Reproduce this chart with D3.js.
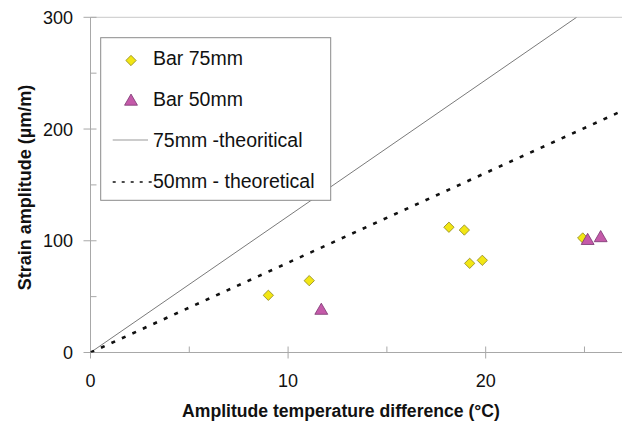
<!DOCTYPE html>
<html>
<head>
<meta charset="utf-8">
<script src="https://cdn.jsdelivr.net/npm/d3@7"></script>
<style>
  html, body { margin: 0; padding: 0; background: #fff; }
  svg { display: block; font-family: Arial, "Liberation Sans", sans-serif; }
</style>
</head>
<body>
<svg id="chart" width="622" height="422"></svg>
<script>
// ---- data ----
const bar75X = [9.0, 11.07, 18.14, 18.92, 19.19, 19.83, 24.91];
const bar75Y = [51.2, 64.3, 112.1, 109.6, 79.8, 82.5, 102.5];
const bar50X = [11.68, 25.16, 25.82];
const bar50Y = [37.5, 100.0, 102.5];
const theo75X = [0, 24.6];
const theo75Y = [0, 300];
const theo50X = [0, 27];
const theo50Y = [0, 217];
const xTicks = [0, 10, 20];
const xMinorTicks = [5, 15, 25];
const yTicks = [0, 100, 200, 300];
const yMinorTicks = [50, 150, 250];
const legendLabels = ["Bar 75mm", "Bar 50mm", "75mm -theoritical", "50mm - theoretical"];
const xTitle = "Amplitude temperature difference (°C)";
const yTitle = "Strain amplitude (µm/m)";

// ---- layout ----
const svg = d3.select("#chart");
const x = d3.scaleLinear().domain([0, 27]).range([90.5, 624]);
const y = d3.scaleLinear().domain([0, 300]).range([352.5, 17.3]);
const axisColor = "#a8a8a8";

// frame top line
svg.append("line")
  .attr("x1", x(0)).attr("x2", 622)
  .attr("y1", y(300)).attr("y2", y(300))
  .attr("stroke", "#c8c8c8").attr("stroke-width", 1);

// y axis
const yAxis = svg.append("g").attr("transform", `translate(${x(0)},0)`);
yAxis.append("line").attr("y1", y(0)).attr("y2", y(300)).attr("stroke", axisColor);
yAxis.selectAll(".maj").data(yTicks).join("line")
  .attr("class", "maj")
  .attr("x1", -7).attr("x2", 6).attr("y1", d => y(d)).attr("y2", d => y(d))
  .attr("stroke", axisColor);
yAxis.selectAll(".min").data(yMinorTicks).join("line")
  .attr("class", "min")
  .attr("x1", 0).attr("x2", 6).attr("y1", d => y(d)).attr("y2", d => y(d))
  .attr("stroke", axisColor);
svg.selectAll(".ylab").data(yTicks).join("text")
  .attr("class", "ylab")
  .attr("x", 73).attr("y", d => y(d)).attr("dy", "0.36em")
  .attr("text-anchor", "end").attr("font-size", 18).attr("fill", "#111")
  .text(d => d);

// x axis
const xAxis = svg.append("g").attr("transform", `translate(0,${y(0)})`);
xAxis.append("line").attr("x1", x(0)).attr("x2", 622).attr("stroke", axisColor);
xAxis.selectAll(".maj").data(xTicks).join("line")
  .attr("class", "maj")
  .attr("x1", d => x(d)).attr("x2", d => x(d)).attr("y1", -6).attr("y2", 6)
  .attr("stroke", axisColor);
xAxis.selectAll(".min").data(xMinorTicks).join("line")
  .attr("class", "min")
  .attr("x1", d => x(d)).attr("x2", d => x(d)).attr("y1", -6).attr("y2", 0)
  .attr("stroke", axisColor);
svg.selectAll(".xlab").data(xTicks).join("text")
  .attr("class", "xlab")
  .attr("x", d => x(d)).attr("y", 386.5)
  .attr("text-anchor", "middle").attr("font-size", 18).attr("fill", "#111")
  .text(d => d);

// axis titles
svg.append("text")
  .attr("x", 341).attr("y", 417)
  .attr("text-anchor", "middle").attr("font-size", 17.6).attr("font-weight", "bold").attr("fill", "#111")
  .text(xTitle);
svg.append("text")
  .attr("transform", "translate(31,187.5) rotate(-90)")
  .attr("text-anchor", "middle").attr("font-size", 18).attr("font-weight", "bold").attr("fill", "#111")
  .text(yTitle);

// clip
svg.append("clipPath").attr("id", "plotclip")
  .append("rect").attr("x", x(0)).attr("y", y(300)).attr("width", 622 - x(0)).attr("height", y(0) - y(300));

const plot = svg.append("g").attr("clip-path", "url(#plotclip)");
const line = d3.line().x(d => x(d[0])).y(d => y(d[1]));

plot.append("path")
  .datum(d3.zip(theo75X, theo75Y))
  .attr("d", line).attr("fill", "none")
  .attr("stroke", "#7a7a7a").attr("stroke-width", 1);
plot.append("path")
  .datum(d3.zip(theo50X, theo50Y))
  .attr("d", line).attr("fill", "none")
  .attr("stroke", "#111").attr("stroke-width", 2.6)
  .attr("stroke-dasharray", "4,7.5");

// points
const diamond = d3.symbol().type(d3.symbolDiamond2).size(68);
const tri = d3.symbol().type(d3.symbolTriangle).size(72);
const yellow = "#f2e614", yellowStroke = "#8c8420";
const pink = "#c45aa9", pinkStroke = "#7a3670";

plot.selectAll(".p75").data(d3.zip(bar75X, bar75Y)).join("path")
  .attr("class", "p75")
  .attr("transform", d => `translate(${x(d[0])},${y(d[1])})`)
  .attr("d", diamond).attr("fill", yellow).attr("stroke", yellowStroke).attr("stroke-width", 0.8);
plot.selectAll(".p50").data(d3.zip(bar50X, bar50Y)).join("path")
  .attr("class", "p50")
  .attr("transform", d => `translate(${x(d[0])},${y(d[1])})`)
  .attr("d", tri).attr("fill", pink).attr("stroke", pinkStroke).attr("stroke-width", 0.8);

// legend
const lg = svg.append("g");
lg.append("rect").attr("x", 100.7).attr("y", 37.7).attr("width", 230).attr("height", 162.6)
  .attr("fill", "#fff").attr("stroke", "#8a8a8a").attr("stroke-width", 1);
lg.append("path").attr("transform", "translate(131,60.5)")
  .attr("d", diamond).attr("fill", yellow).attr("stroke", yellowStroke).attr("stroke-width", 0.8);
lg.append("path").attr("transform", "translate(131,101.5)")
  .attr("d", tri).attr("fill", pink).attr("stroke", pinkStroke).attr("stroke-width", 0.8);
lg.append("line").attr("x1", 112.7).attr("x2", 148).attr("y1", 140).attr("y2", 140)
  .attr("stroke", "#999").attr("stroke-width", 1.1);
lg.append("line").attr("x1", 112.7).attr("x2", 152).attr("y1", 182).attr("y2", 182)
  .attr("stroke", "#111").attr("stroke-width", 1.3).attr("stroke-dasharray", "3,6");
const lgY = [65.3, 106, 146.7, 188];
lg.selectAll("text").data(legendLabels).join("text")
  .attr("x", 153).attr("y", (d, i) => lgY[i])
  .attr("font-size", 19.5).attr("fill", "#111")
  .text(d => d);
</script>
</body>
</html>
